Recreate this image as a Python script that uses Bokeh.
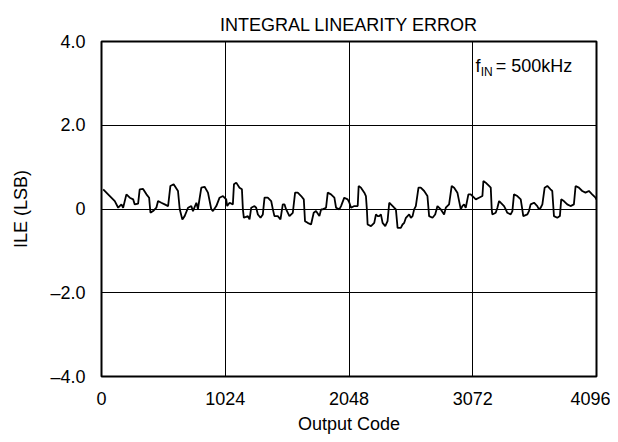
from bokeh.plotting import figure
from bokeh.models import ColumnDataSource, Label, FixedTicker, Range1d
from bokeh.embed import file_html
from bokeh.resources import INLINE

# Output code (x) and integral linearity error in LSB (y)
codes = [14, 69, 110, 138, 165, 179, 206, 234, 262, 275, 303, 316, 344, 372, 394, 405,
         427, 454, 468, 495, 523, 551, 570, 597, 633, 647, 669, 688, 716, 743, 757, 785,
         798, 826, 853, 881, 908, 922, 950, 977, 1005, 1032,
         1040, 1060, 1087, 1096, 1115, 1142, 1162, 1170, 1178, 1211, 1225, 1239, 1266, 1280,
         1294, 1316, 1335, 1349, 1376, 1404, 1418, 1431, 1459, 1481, 1500, 1514, 1528, 1555,
         1583, 1602, 1624, 1652, 1674, 1684, 1706, 1734, 1756, 1775, 1803, 1817, 1830, 1858,
         1872, 1899, 1927, 1941, 1968, 1982, 2009, 2037,
         2051, 2065, 2092, 2120, 2128, 2147, 2175, 2188, 2196, 2202, 2230, 2257, 2271, 2285,
         2298, 2312, 2326, 2348, 2367, 2381, 2395, 2422, 2436, 2450, 2477, 2491, 2505, 2519,
         2546, 2560, 2574, 2587, 2601, 2623, 2642, 2670, 2697, 2711, 2739, 2761, 2780, 2808,
         2835, 2849, 2876, 2898, 2918, 2945, 2973, 2986, 3000, 3014, 3036,
         3055, 3083, 3097, 3124, 3152, 3160, 3179, 3207, 3221, 3229, 3234, 3262, 3276, 3290,
         3303, 3317, 3331, 3345, 3358, 3386, 3400, 3413, 3441, 3469, 3482, 3490, 3524, 3537,
         3551, 3579, 3606, 3620, 3634, 3648, 3667, 3689, 3716, 3730, 3744, 3772, 3793, 3804,
         3826, 3854, 3881, 3909, 3923, 3950, 3978, 4005, 4033, 4060, 4088, 4093]
ile = [0.47, 0.31, 0.19, 0.03, 0.11, 0.03, 0.35, 0.27, 0.23, 0.11, 0.13, 0.47, 0.48, 0.35, 0.27, -0.09,
       -0.05, 0.03, 0.19, 0.15, 0.11, 0.07, 0.55, 0.59, 0.43, 0.0, -0.25, -0.17, 0.03, 0.07, -0.05, 0.15,
       0.0, 0.51, 0.53, 0.39, 0.0, -0.05, 0.07, 0.27, 0.31, 0.23,
       0.07, 0.15, 0.11, 0.59, 0.63, 0.51, 0.47, -0.01, -0.21, -0.17, -0.25, 0.03, 0.07, 0.03,
       -0.13, -0.21, -0.13, 0.27, 0.27, 0.19, -0.01, -0.17, -0.17, -0.25, 0.11, 0.11, -0.01, -0.17,
       -0.09, 0.39, 0.39, 0.31, 0.23, -0.29, -0.33, -0.37, -0.09, -0.05, -0.17, -0.01, -0.01, 0.03,
       0.39, 0.35, 0.27, 0.03, -0.01, 0.07, 0.27, 0.23,
       0.15, 0.03, 0.07, 0.07, 0.55, 0.51, 0.39, 0.31, -0.01, -0.37, -0.41, -0.33, -0.13, -0.17,
       -0.17, -0.13, -0.33, -0.41, -0.29, 0.15, 0.11, 0.03, -0.01, -0.45, -0.45, -0.37, -0.33, -0.21,
       -0.13, -0.21, -0.17, -0.01, 0.07, 0.51, 0.51, 0.43, 0.31, -0.17, -0.21, -0.13, 0.07, -0.01,
       -0.13, 0.03, 0.11, 0.55, 0.51, 0.39, -0.01, 0.07, 0.11, 0.03, 0.35,
       0.35, 0.27, 0.23, 0.27, 0.31, 0.67, 0.63, 0.55, 0.51, -0.01, -0.13, -0.09, 0.03, 0.19,
       0.15, 0.11, 0.07, -0.01, -0.09, -0.13, -0.05, 0.35, 0.31, 0.23, -0.01, -0.17, -0.13, -0.05,
       0.11, 0.15, 0.07, -0.01, 0.03, 0.11, 0.51, 0.55, 0.47, 0.43, -0.17, -0.21, -0.17, 0.23,
       0.19, 0.11, 0.07, 0.11, 0.55, 0.51, 0.43, 0.39, 0.43, 0.35, 0.27, 0.23]

x_ticks = [0, 1024, 2048, 3072, 4096]
y_ticks = [-4, -2, 0, 2, 4]
y_tick_labels = {-4: "–4.0", -2: "–2.0", 0: "0", 2: "2.0", 4: "4.0"}

FONT = "Liberation Sans"

p = figure(width=610, height=440, output_backend="svg", toolbar_location=None,
           x_range=Range1d(0, 4096), y_range=Range1d(-4, 4),
           min_border_left=101, min_border_right=14, min_border_top=41, min_border_bottom=64,
           title="INTEGRAL LINEARITY ERROR")
p.title.align = "center"
p.title.vertical_align = "top"
p.title.text_font = FONT
p.title.text_font_size = "18px"
p.title.text_font_style = "normal"
p.title.text_color = "black"
p.title.offset = 0
p.title.standoff = 10

p.outline_line_color = "black"
p.outline_line_width = 2
p.background_fill_color = "white"
p.border_fill_color = "white"

for ax in (p.xaxis, p.yaxis):
    ax.axis_line_color = None
    ax.major_tick_out = 0
    ax.major_tick_in = 0
    ax.minor_tick_out = 0
    ax.minor_tick_in = 0
    ax.major_label_text_font = FONT
    ax.major_label_text_font_size = "18px"
    ax.major_label_text_color = "black"
    ax.axis_label_text_font = FONT
    ax.axis_label_text_font_size = "18px"
    ax.axis_label_text_font_style = "normal"
    ax.axis_label_text_color = "black"

p.xaxis.ticker = FixedTicker(ticks=x_ticks)
p.yaxis.ticker = FixedTicker(ticks=y_ticks)
p.yaxis.major_label_overrides = y_tick_labels
p.xaxis.axis_label = "Output Code"
p.yaxis.axis_label = "ILE (LSB)"
p.xaxis.major_label_standoff = 15
p.yaxis.major_label_standoff = 16
p.xaxis.axis_label_standoff = 6
p.yaxis.axis_label_standoff = 16

p.xgrid.grid_line_color = "black"
p.ygrid.grid_line_color = "black"
p.xgrid.grid_line_width = 1
p.ygrid.grid_line_width = 1
p.grid.grid_line_alpha = 1.0

src = ColumnDataSource(data=dict(x=codes, y=ile))
p.line("x", "y", source=src, line_color="black", line_width=1.8)

p.add_layout(Label(x=3095, y=3.42, text="f", text_font=FONT, text_font_size="18px",
                   text_baseline="middle", text_color="black"))
p.add_layout(Label(x=3138, y=3.28, text="IN", text_font=FONT, text_font_size="12px",
                   text_baseline="middle", text_color="black"))
p.add_layout(Label(x=3262, y=3.42, text="= 500kHz", text_font=FONT, text_font_size="18px",
                   text_baseline="middle", text_color="black"))

open("out.html", "w").write(file_html(p, INLINE))
